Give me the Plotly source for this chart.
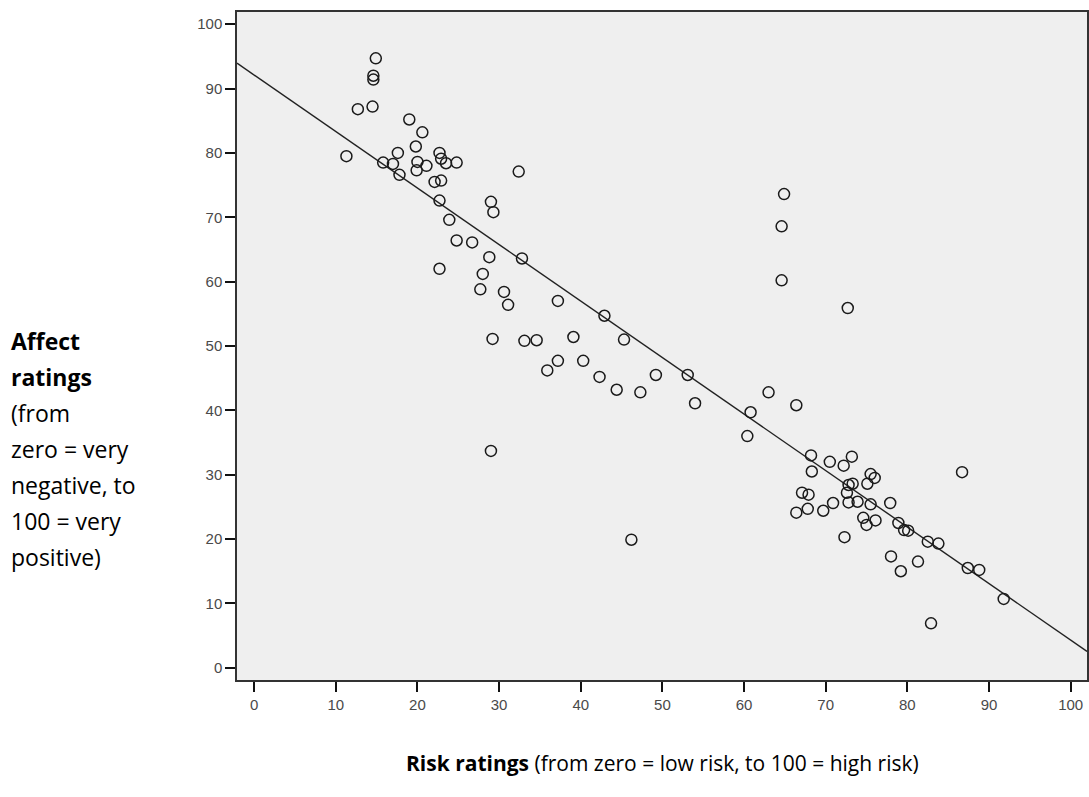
import plotly.graph_objects as go

# Data
risk = [14.9, 14.6, 14.6, 12.7, 14.5, 19.0, 20.6, 19.8, 11.3, 17.6,
        22.7, 22.9, 23.5, 24.8, 15.8, 17.0, 20.0, 21.1, 19.9, 17.8,
        32.4, 22.1, 22.9, 22.7, 29.0, 29.3, 23.9, 24.8, 26.7, 28.8,
        32.8, 22.7, 28.0, 27.7, 30.6, 31.1, 29.2, 33.1, 29.0,
        64.9, 64.6, 64.6, 37.2, 42.9, 45.3, 34.6, 39.1, 37.2, 40.3,
        35.9, 42.3, 44.4, 47.3, 49.2, 53.1, 54.0, 63.0, 60.8, 60.4,
        66.4, 46.2, 72.7,
        68.2, 73.2, 70.5, 72.2, 68.3, 75.5, 76.0, 75.1, 72.8, 73.3,
        72.6, 67.1, 67.9, 70.9, 72.8, 73.9, 75.5, 77.9, 67.8, 66.4,
        69.7, 74.6, 76.1, 75.0, 78.9, 79.6, 80.1, 72.3, 82.5, 83.8,
        78.0, 81.3, 79.2, 82.9, 86.7, 87.4, 88.8, 91.8]
affect = [94.7, 92.0, 91.4, 86.8, 87.2, 85.2, 83.2, 81.0, 79.5, 80.0,
          80.0, 79.1, 78.4, 78.5, 78.5, 78.3, 78.6, 78.0, 77.3, 76.6,
          77.1, 75.5, 75.7, 72.6, 72.4, 70.8, 69.6, 66.4, 66.1, 63.8,
          63.6, 62.0, 61.2, 58.8, 58.4, 56.4, 51.1, 50.8, 33.7,
          73.6, 68.6, 60.2, 57.0, 54.7, 51.0, 50.9, 51.4, 47.7, 47.7,
          46.2, 45.2, 43.2, 42.8, 45.5, 45.5, 41.1, 42.8, 39.7, 36.0,
          40.8, 19.9, 55.9,
          33.0, 32.8, 32.0, 31.4, 30.5, 30.1, 29.5, 28.6, 28.4, 28.6,
          27.2, 27.2, 26.9, 25.6, 25.7, 25.8, 25.4, 25.6, 24.7, 24.1,
          24.4, 23.3, 22.9, 22.2, 22.5, 21.4, 21.3, 20.3, 19.6, 19.3,
          17.3, 16.5, 15.0, 6.9, 30.4, 15.5, 15.2, 10.7]

# Fit line (as drawn in the reference)
fit_intercept = 92.1
fit_slope = -0.878

tick_values = [0, 10, 20, 30, 40, 50, 60, 70, 80, 90, 100]
x_range = [-2.1, 102.0]
y_range = [-1.9, 101.9]

fig = go.Figure()

fig.add_trace(go.Scatter(
    x=x_range,
    y=[fit_intercept + fit_slope * v for v in x_range],
    mode="lines",
    line=dict(color="#222222", width=1.4),
    hoverinfo="skip",
    showlegend=False,
))

fig.add_trace(go.Scatter(
    x=risk, y=affect, mode="markers",
    marker=dict(symbol="circle-open", size=11, color="#1a1a1a",
                line=dict(width=1.5, color="#1a1a1a")),
    showlegend=False,
))

axis_common = dict(
    tickvals=tick_values,
    ticks="outside",
    ticklen=10,
    tickwidth=1.5,
    tickcolor="#111111",
    showline=True,
    linecolor="#333333",
    linewidth=1.5,
    mirror=True,
    showgrid=False,
    zeroline=False,
    tickfont=dict(family="Liberation Sans, Arial", size=15, color="#4a4a4a"),
)

fig.update_xaxes(range=x_range, **axis_common)
fig.update_yaxes(range=y_range, ticklabelstandoff=0, **axis_common)

W, H = 1089, 797
L, R, T, B = 237, 2, 12, 117
plot_w = W - L - R
plot_h = H - T - B

def px_to_paper_x(px):
    return (px - L) / plot_w

def py_to_paper_y(py):
    return (H - B - py) / plot_h

y_title_lines = ["<b>Affect</b>", "<b>ratings</b>", "(from", "zero = very",
                 "negative, to", "100 = very", "positive)"]
annotations = []
for i, line in enumerate(y_title_lines):
    annotations.append(dict(
        text=line, xref="paper", yref="paper",
        x=px_to_paper_x(9), y=py_to_paper_y(341 + 36 * i),
        xanchor="left", yanchor="middle", showarrow=False,
        font=dict(family="Open Sans", size=23, color="#000000"),
    ))

annotations.append(dict(
    text="<b>Risk ratings</b> (from zero = low risk, to 100 = high risk)",
    xref="paper", yref="paper",
    x=px_to_paper_x(662), y=py_to_paper_y(763),
    xanchor="center", yanchor="middle", showarrow=False,
    font=dict(family="Open Sans", size=21, color="#000000"),
))

fig.update_layout(
    width=W, height=H,
    margin=dict(l=L, r=R, t=T, b=B, autoexpand=False),
    paper_bgcolor="white",
    plot_bgcolor="#efefef",
    annotations=annotations,
    hovermode="closest",
)

fig.write_html(
    "out.html",
    config={"displayModeBar": False},
    post_script="document.body.style.margin='0';document.body.style.overflow='hidden';",
)
